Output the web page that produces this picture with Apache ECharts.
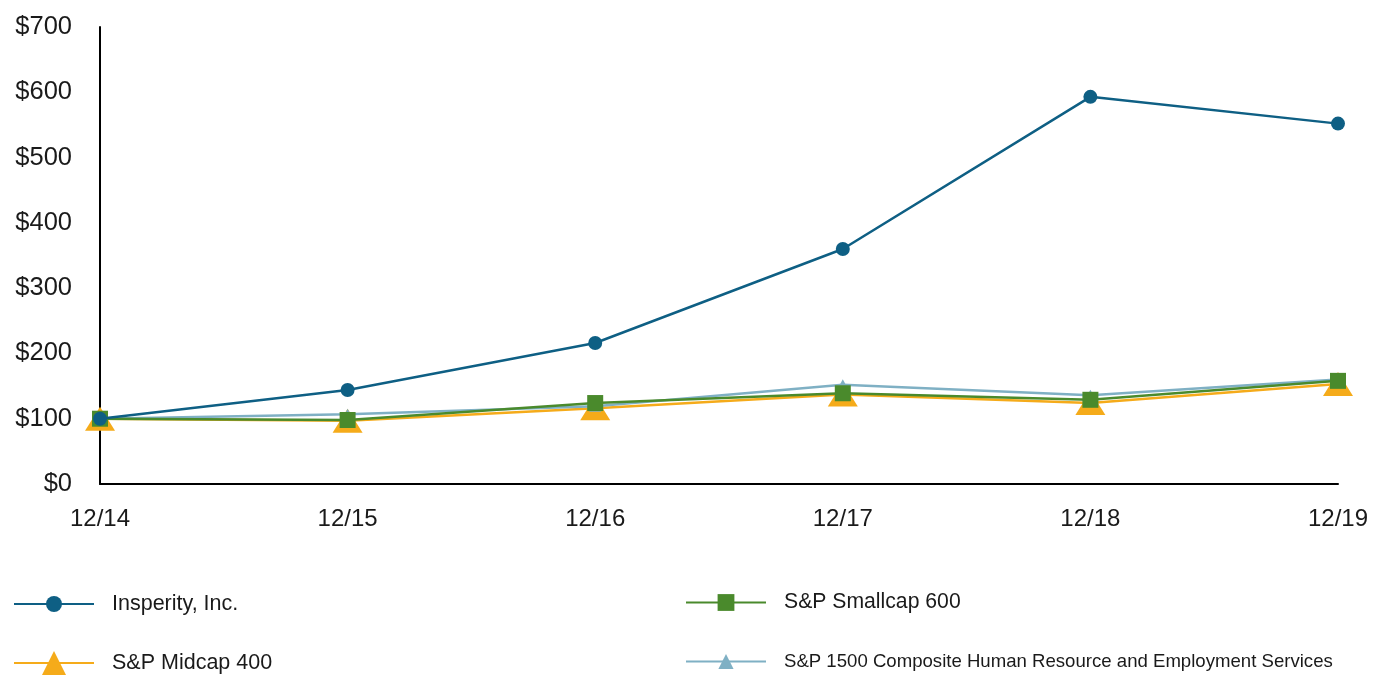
<!DOCTYPE html>
<html>
<head>
<meta charset="utf-8">
<script src="https://cdn.jsdelivr.net/npm/echarts@6/dist/echarts.min.js"></script>
<style>
    html, body { margin: 0; padding: 0; background: #fff; }
    #main { width: 1377px; height: 675px; }
</style>
</head>
<body>
<div id="main"></div>
<script>
let years = ['12/14', '12/15', '12/16', '12/17', '12/18', '12/19'];
let insperity = [100, 144, 216, 360, 593, 552];
let midcap = [100, 97, 116, 137, 124, 153];
let hrServices = [100, 107, 119, 152, 136, 160];
let smallcap = [100, 98, 124, 139, 129, 158];
let yTicks = [0, 100, 200, 300, 400, 500, 600, 700];

let chart = echarts.init(document.getElementById('main'));

let font = 'Liberation Sans, Arial, sans-serif';
function legendAt(name, left, top, h, size){
    return {
        orient: 'vertical',
        padding: 0,
        left: left,
        top: top,
        itemWidth: 80,
        itemHeight: h,
        data: [name],
        textStyle: { fontFamily: font, fontSize: size, color: '#1a1a1a', padding: [0, 0, 0, 13] }
    };
}

let option = {
    animation: false,
    legend: [
        legendAt('Insperity, Inc.', 13, 593, 20, 21.5),
        legendAt('S&P Midcap 400', 13, 651, 30, 21.5),
        legendAt('S&P Smallcap 600', 685, 592, 21, 21.2),
        legendAt('S&P 1500 Composite Human Resource and Employment Services', 685, 652, 19, 18.6)
    ],
    grid: {
        top: 27,
        left: 100,
        right: 39,
        bottom: 191
    },
    xAxis: {
        type: 'category',
        boundaryGap: false,
        data: years,
        axisLine: { lineStyle: { color: '#000', width: 2 } },
        axisTick: { show: false },
        axisLabel: { fontFamily: font, fontSize: 24, color: '#1a1a1a', margin: 23 }
    },
    yAxis: {
        type: 'value',
        min: yTicks[0],
        max: yTicks[yTicks.length - 1],
        interval: 100,
        axisLine: { show: true, lineStyle: { color: '#000', width: 2 } },
        axisTick: { show: false },
        splitLine: { show: false },
        axisLabel: { fontFamily: font, fontSize: 25.5, color: '#1a1a1a', margin: 28, formatter: v => '$' + v }
    },
    series: [
        {
            name: 'S&P Midcap 400',
            type: 'line',
            data: midcap,
            z: 2,
            symbol: 'triangle',
            symbolSize: [30, 24],
            itemStyle: { color: '#f5ab1a' },
            lineStyle: { color: '#f5ab1a', width: 2.5 }
        },
        {
            name: 'S&P 1500 Composite Human Resource and Employment Services',
            type: 'line',
            data: hrServices,
            z: 3,
            symbol: 'triangle',
            symbolSize: [12, 11],
            itemStyle: { color: '#7fb0c4' },
            lineStyle: { color: '#7fb0c4', width: 2.5 }
        },
        {
            name: 'S&P Smallcap 600',
            type: 'line',
            data: smallcap,
            z: 4,
            symbol: 'rect',
            symbolSize: 16,
            itemStyle: { color: '#4a8a2c' },
            lineStyle: { color: '#4a8a2c', width: 2.5 }
        },
        {
            name: 'Insperity, Inc.',
            type: 'line',
            data: insperity,
            z: 5,
            symbol: 'circle',
            symbolSize: 14,
            itemStyle: { color: '#0e5f84' },
            lineStyle: { color: '#0e5f84', width: 2.5 }
        }
    ]
};
chart.setOption(option);
</script>
</body>
</html>
